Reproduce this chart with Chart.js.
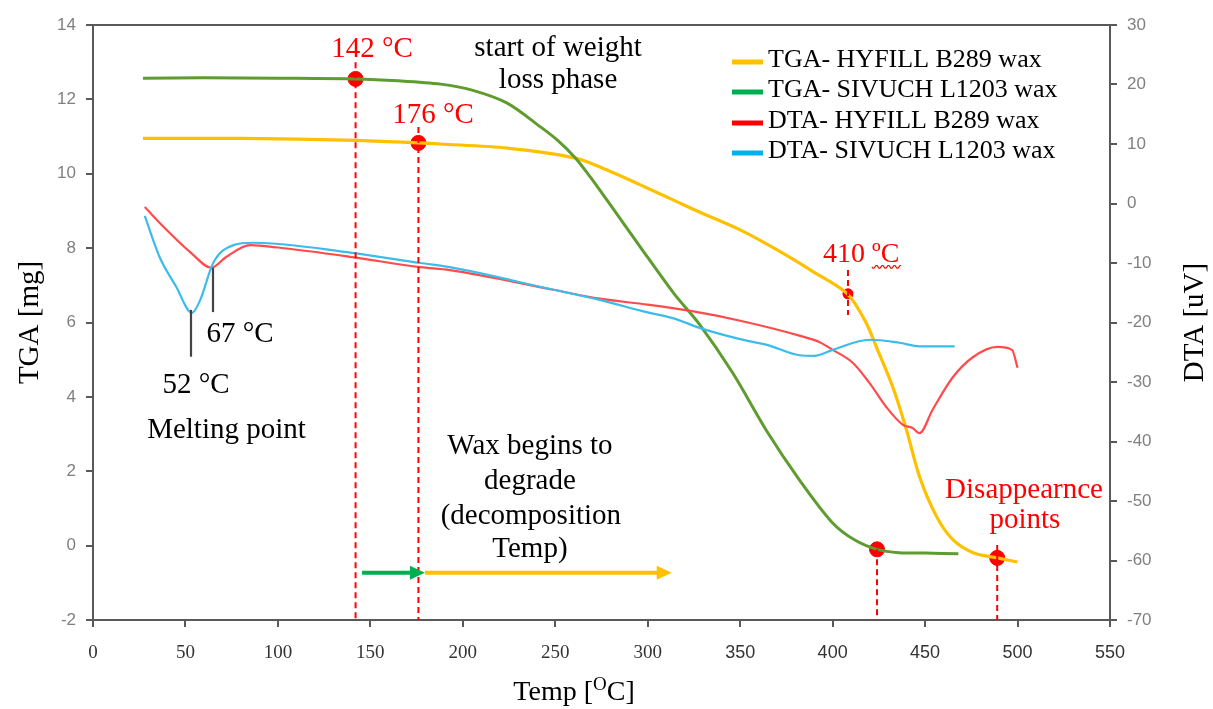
<!DOCTYPE html>
<html>
<head>
<meta charset="utf-8">
<title>TGA / DTA of waxes</title>
<script src="https://cdn.jsdelivr.net/npm/chart.js@4.4.1/dist/chart.umd.min.js"></script>
<style>
  html, body { margin: 0; padding: 0; background: #fff; }
  #wrap { width: 1213px; height: 709px; }
</style>
</head>
<body>
<div id="wrap"><canvas id="c" width="1213" height="709"></canvas></div>
<script>
// ---- data ----
const xTickValues = [0, 50, 100, 150, 200, 250, 300, 350, 400, 450, 500, 550];
const tgaTickValues = [-2, 0, 2, 4, 6, 8, 10, 12, 14];
const dtaTickValues = [-70, -60, -50, -40, -30, -20, -10, 0, 10, 20, 30];

const seriesNames = [
  "TGA- HYFILL B289 wax",
  "TGA- SIVUCH L1203 wax",
  "DTA- HYFILL B289 wax",
  "DTA- SIVUCH L1203 wax",
];

// TGA [mg], left axis
const tempTgaHyfill = [27, 80, 142, 176, 188, 224, 261, 278, 296, 314, 328, 350, 370, 390, 408, 418, 424, 433, 440, 447, 456, 465, 476, 489, 500];
const tgaHyfill     = [10.95, 10.95, 10.9, 10.83, 10.8, 10.69, 10.42, 10.1, 9.7, 9.29, 8.97, 8.49, 7.95, 7.35, 6.77, 6.0, 5.3, 4.2, 3.1, 1.85, 0.8, 0.16, -0.19, -0.33, -0.44];

const tempTgaSivuch = [27, 60, 100, 142, 165, 188, 205, 224, 242, 251, 261, 269, 278, 296, 314, 328, 346, 364, 382, 400, 412, 424, 436, 450, 468];
const tgaSivuch     = [12.57, 12.58, 12.57, 12.55, 12.5, 12.41, 12.25, 11.9, 11.26, 10.91, 10.42, 9.91, 9.29, 8.03, 6.79, 5.95, 4.64, 3.11, 1.77, 0.61, 0.15, -0.1, -0.19, -0.2, -0.22];

// DTA [uV], right axis
const tempDtaHyfill = [28, 40, 53, 64, 72, 85, 100, 140, 177, 193, 249, 274, 300, 324, 350, 382, 393, 400, 411, 420, 429, 438, 443, 447, 454, 465, 476, 489, 497, 500];
const dtaHyfill     = [-0.6, -4.5, -8.3, -10.8, -9.0, -7.0, -7.4, -9.0, -10.7, -11.2, -14.5, -16.0, -17.0, -18.1, -19.7, -22.2, -23.3, -24.6, -26.8, -30.2, -34.2, -37.2, -37.7, -38.6, -34.7, -29.2, -25.8, -24.1, -24.6, -27.6];

const tempDtaSivuch = [28, 36, 45, 53.5, 58, 65, 76, 87, 140, 177, 193, 249, 274, 300, 314, 328, 350, 365, 382, 390, 400, 420, 436, 447, 466];
const dtaSivuch     = [-2.1, -9.0, -14.0, -18.4, -16.2, -10.0, -7.0, -6.6, -8.3, -10.0, -10.7, -14.5, -16.2, -18.3, -19.3, -20.9, -22.8, -23.8, -25.5, -25.6, -24.6, -22.9, -23.4, -24.0, -24.0];

// marked points (on TGA curves)
const markTemp = [142, 176, 424, 489];
const markTga  = [12.55, 10.83, -0.1, -0.33];
const dotTemp = [408.3];
const dotTga  = [6.77];

// red dashed guides: temperature, top and bottom (TGA units)
const guideTemp   = [142, 176, 408.3, 424, 489];
const guideTop    = [13.0, 11.26, 7.41, -0.1, 0.02];
const guideBottom = [-2, -2, 6.2, -2, -2];

// black melting marks: temperature, top, bottom (TGA units)
const meltTemp   = [53.0, 64.9];
const meltTop    = [6.34, 7.47];
const meltBottom = [5.08, 6.28];

// decomposition arrows at TGA = -0.73
const arrowFrom = [145.5, 179.5];
const arrowTo   = [179.5, 313];
const arrowLevel = -0.73;

const colors = ["#FFC000", "#5E9C2E", "#FF4B4B", "#3CBCEB"];
const legendColors = ["#FFC000", "#00B050", "#FF0000", "#00B0F0"];
const RED = "#FF0000";
const SERIF = "'Liberation Serif', 'Times New Roman', serif";
const SANS = "'Liberation Sans', Arial, sans-serif";

// text notes, anchored in data units (temp, TGA), centered
const notes = [
  { text: "142 \u00B0C", x: 150.9, y: 13.14, color: RED },
  { text: "176 \u00B0C", x: 183.9, y: 11.36, color: RED },
  { text: "start of weight", x: 251.5, y: 13.17, color: "#000" },
  { text: "loss phase", x: 251.5, y: 12.31, color: "#000" },
  { text: "Disappearnce", x: 503.5, y: 1.28, color: RED },
  { text: "points", x: 504, y: 0.47, color: RED },
  { text: "52 \u00B0C", x: 55.7, y: 4.1, color: "#000" },
  { text: "67 \u00B0C", x: 79.5, y: 5.48, color: "#000" },
  { text: "Melting point", x: 72.2, y: 2.89, color: "#000" },
  { text: "Wax begins to", x: 236.3, y: 2.46, color: "#000" },
  { text: "degrade", x: 236.3, y: 1.52, color: "#000" },
  { text: "(decomposition", x: 236.8, y: 0.58, color: "#000" },
  { text: "Temp)", x: 236.3, y: -0.31, color: "#000" },
];

const pts = (xs, ys) => xs.map((x, i) => ({ x: x, y: ys[i] }));

const datasets = [];
// guides first so curves sit on top
guideTemp.forEach((t, i) => {
  datasets.push({
    data: [{ x: t, y: guideTop[i] }, { x: t, y: guideBottom[i] }],
    yAxisID: "y", borderColor: RED, borderWidth: 2, borderDash: [6, 4],
    pointRadius: 0, tension: 0,
  });
});
datasets.push(
  { label: seriesNames[3], data: pts(tempDtaSivuch, dtaSivuch), yAxisID: "y2", borderColor: colors[3], borderWidth: 2.2, cubicInterpolationMode: "monotone" },
  { label: seriesNames[2], data: pts(tempDtaHyfill, dtaHyfill), yAxisID: "y2", borderColor: colors[2], borderWidth: 2.2, cubicInterpolationMode: "monotone" },
  { label: seriesNames[1], data: pts(tempTgaSivuch, tgaSivuch), yAxisID: "y", borderColor: colors[1], borderWidth: 3, tension: 0.3 },
  { label: seriesNames[0], data: pts(tempTgaHyfill, tgaHyfill), yAxisID: "y", borderColor: colors[0], borderWidth: 3.2, tension: 0.3 },
  { data: pts(markTemp, markTga), yAxisID: "y", showLine: false, pointRadius: 7.5, pointBackgroundColor: RED, pointBorderColor: RED, pointBorderWidth: 1 },
  { data: pts(markTemp, markTga), yAxisID: "y", showLine: false, pointRadius: 1.5, pointBackgroundColor: "#5577aa", pointBorderWidth: 0 },
  { data: pts(dotTemp, dotTga), yAxisID: "y", showLine: false, pointRadius: 5.5, pointBackgroundColor: RED, pointBorderColor: RED, pointBorderWidth: 0 }
);
datasets.forEach(d => {
  if (d.pointRadius === undefined) d.pointRadius = 0;
  d.fill = false;
});

const extras = {
  id: "extras",
  afterDatasetsDraw(chart) {
    const { ctx, chartArea: a, scales } = chart;
    const X = scales.x, Y = scales.y;
    ctx.save();

    // frame top line
    ctx.strokeStyle = "#595959";
    ctx.lineWidth = 2;
    ctx.beginPath();
    ctx.moveTo(a.left - 1, a.top);
    ctx.lineTo(a.right + 1, a.top);
    ctx.stroke();

    // melting marks
    ctx.strokeStyle = "#444";
    ctx.lineWidth = 2.2;
    meltTemp.forEach((t, i) => {
      const px = X.getPixelForValue(t);
      ctx.beginPath();
      ctx.moveTo(px, Y.getPixelForValue(meltTop[i]));
      ctx.lineTo(px, Y.getPixelForValue(meltBottom[i]));
      ctx.stroke();
    });

    // arrows
    const arrowColors = ["#00B050", "#FFC000"];
    const ay = Y.getPixelForValue(arrowLevel);
    arrowFrom.forEach((t, i) => {
      const x0 = X.getPixelForValue(t), x1 = X.getPixelForValue(arrowTo[i]);
      ctx.strokeStyle = arrowColors[i];
      ctx.fillStyle = arrowColors[i];
      ctx.lineWidth = 4;
      ctx.beginPath();
      ctx.moveTo(x0, ay);
      ctx.lineTo(x1 - 12, ay);
      ctx.stroke();
      ctx.beginPath();
      ctx.moveTo(x1, ay);
      ctx.lineTo(x1 - 15, ay - 7);
      ctx.lineTo(x1 - 15, ay + 7);
      ctx.closePath();
      ctx.fill();
    });

    // notes
    ctx.font = "29px " + SERIF;
    ctx.textAlign = "center";
    ctx.textBaseline = "alphabetic";
    notes.forEach(n => {
      ctx.fillStyle = n.color;
      ctx.fillText(n.text, X.getPixelForValue(n.x), Y.getPixelForValue(n.y));
    });

    // 410 ºC with wavy underline under the unit
    ctx.font = "28px " + SERIF;
    const lx = X.getPixelForValue(408.3) - 25, ly = Y.getPixelForValue(7.63);
    ctx.textAlign = "left";
    ctx.fillStyle = RED;
    ctx.fillText("410 \u00BAC", lx, ly);
    const w0 = ctx.measureText("410 ").width, w1 = ctx.measureText("410 \u00BAC").width;
    ctx.strokeStyle = RED;
    ctx.lineWidth = 1.2;
    ctx.beginPath();
    for (let x = lx + w0; x <= lx + w1 + 2; x += 1) {
      const y = ly + 5 + 1.6 * Math.sin((x - lx - w0) * Math.PI / 3);
      if (x === lx + w0) ctx.moveTo(x, y); else ctx.lineTo(x, y);
    }
    ctx.stroke();

    // legend
    ctx.font = "26px " + SERIF;
    ctx.textBaseline = "middle";
    ctx.textAlign = "left";
    const rowY = [35, 65, 96, 126];
    seriesNames.forEach((name, i) => {
      const y = a.top + rowY[i];
      ctx.strokeStyle = legendColors[i];
      ctx.lineWidth = 5;
      ctx.beginPath();
      ctx.moveTo(a.right - 378, y + 2);
      ctx.lineTo(a.right - 347, y + 2);
      ctx.stroke();
      ctx.fillStyle = "#000";
      ctx.fillText(name, a.right - 342, y);
    });

    // axis titles
    ctx.fillStyle = "#000";
    ctx.font = "29px " + SERIF;
    ctx.textAlign = "center";
    ctx.textBaseline = "middle";
    const midY = (a.top + a.bottom) / 2;
    [["TGA [mg]", 30], ["DTA [uV]", 1195]].forEach(([t, x]) => {
      ctx.save();
      ctx.translate(x, midY);
      ctx.rotate(-Math.PI / 2);
      ctx.fillText(t, 0, 0);
      ctx.restore();
    });
    ctx.textAlign = "left";
    ctx.textBaseline = "alphabetic";
    ctx.font = "28px " + SERIF;
    const p1 = "Temp [", p3 = "C]";
    const wa = ctx.measureText(p1).width;
    ctx.font = "19px " + SERIF;
    const wb = ctx.measureText("O").width;
    ctx.font = "28px " + SERIF;
    const wc = ctx.measureText(p3).width;
    const tx = 574 - (wa + wb + wc) / 2;
    const ty = 700;
    ctx.fillText(p1, tx, ty);
    ctx.font = "19px " + SERIF;
    ctx.fillText("O", tx + wa, ty - 10);
    ctx.font = "28px " + SERIF;
    ctx.fillText(p3, tx + wa + wb, ty);

    ctx.restore();
  },
};

const axisBorder = { display: true, color: "#595959", width: 2 };
const tickGrid = { drawOnChartArea: false, drawTicks: true, tickLength: 7, color: "#595959", lineWidth: 2 };

new Chart(document.getElementById("c"), {
  type: "line",
  data: { datasets: datasets },
  options: {
    responsive: false,
    devicePixelRatio: 1,
    animation: false,
    layout: { padding: { top: 25, left: 0, right: 0, bottom: 0 } },
    plugins: { legend: { display: false }, tooltip: { enabled: false } },
    scales: {
      x: {
        type: "linear", min: 0, max: 550,
        afterBuildTicks: s => { s.ticks = xTickValues.map(v => ({ value: v })); },
        afterFit: s => { s.height = 89; },
        border: axisBorder, grid: tickGrid,
        ticks: {
          padding: 15, color: "#333", maxRotation: 0, autoSkip: false,
          font: c => (c.tick && c.tick.value > 300) ? { family: SANS, size: 18 } : { family: SERIF, size: 19 },
        },
      },
      y: {
        type: "linear", position: "left", min: -2, max: 14,
        afterBuildTicks: s => { s.ticks = tgaTickValues.map(v => ({ value: v })); },
        afterFit: s => { s.width = 93; },
        border: axisBorder, grid: tickGrid,
        ticks: { padding: 10, color: "#808080", font: { family: SANS, size: 17 } },
      },
      y2: {
        type: "linear", position: "right", min: -70, max: 30,
        afterBuildTicks: s => { s.ticks = dtaTickValues.map(v => ({ value: v })); },
        afterFit: s => { s.width = 103; },
        border: axisBorder, grid: tickGrid,
        ticks: { padding: 10, color: "#808080", font: { family: SANS, size: 17 } },
      },
    },
  },
  plugins: [extras],
});
</script>
</body>
</html>
